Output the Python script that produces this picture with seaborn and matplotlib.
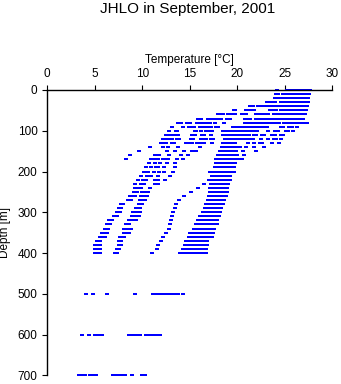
import matplotlib
matplotlib.use("Agg")
import matplotlib.pyplot as plt
import pandas as pd
import seaborn as sns

# ---------------- data: temperatures (deg C) observed at each depth level (m) ----------------
depth_levels = [0, 10, 20, 30, 40, 50, 60, 70, 80, 90, 100, 110, 120, 130, 140, 150, 160, 170,
                180, 190, 200, 210, 220, 230, 240, 250, 260, 270, 280, 290, 300, 310, 320, 330,
                340, 350, 360, 370, 380, 390, 400, 500, 600, 700]

t000 = [24.2, 25.2, 25.5, 26.0, 26.25, 26.5, 26.75, 27.0, 27.25, 27.5, 27.65]
t010 = [24.1, 24.3, 24.8, 25.05, 25.3, 25.55, 25.7, 26.0, 26.25, 26.5, 26.75, 27.0, 27.25, 27.5]
t020 = [24.0, 24.3, 24.5, 24.8, 25.05, 25.3, 25.55, 26.0, 26.25, 26.5, 26.75, 27.0, 27.25, 27.45]
t030 = [23.1, 23.35, 23.6, 23.85, 24.0, 24.6, 24.8, 25.0, 25.25, 25.5, 25.7, 26.0, 26.25, 26.5,
        26.75, 27.0, 27.25, 27.4]
t040 = [21.3, 21.6, 22.2, 22.5, 22.75, 23.0, 23.25, 23.5, 24.0, 24.3, 24.55, 24.8, 25.0, 25.4,
        25.7, 26.0, 26.25, 26.5, 26.75, 27.0, 27.3]
t050 = [19.6, 19.8, 20.9, 21.15, 21.3, 21.6, 21.8, 23.45, 23.7, 23.95, 24.1, 24.6, 24.85, 25.2,
        25.45, 25.7, 25.95, 26.2, 26.4, 26.8, 27.05, 27.2]
t060 = [18.0, 18.25, 18.5, 19.0, 19.2, 19.6, 19.75, 20.5, 20.9, 22.0, 22.4, 22.75, 23.0, 23.25,
        23.9, 24.15, 24.4, 24.6, 24.85, 25.1, 25.35, 25.6, 26.0, 26.25, 26.5, 26.75, 27.0, 27.1]
t070 = [15.9, 16.2, 16.9, 17.3, 17.55, 17.8, 18.0, 18.25, 18.9, 19.2, 20.8, 21.05, 21.3, 22.0,
        22.25, 22.5, 22.75, 23.0, 23.25, 23.5, 23.75, 24.0, 24.25, 24.5, 24.7, 25.0, 25.25, 25.5,
        25.7, 25.9, 26.15, 26.4, 26.65, 26.9]
t080 = [13.8, 14.1, 14.75, 15.0, 15.75, 16.05, 16.45, 16.75, 17.1, 17.7, 18.55, 20.8, 21.05,
        21.3, 21.55, 21.8, 22.05, 22.3, 22.55, 22.8, 23.05, 23.4, 23.65, 23.9, 24.15, 24.4, 24.9,
        25.15, 25.4, 25.7, 25.95, 26.2, 26.5, 26.75, 27.0, 27.3]
t090 = [13.1, 14.3, 14.9, 15.15, 15.4, 16.1, 16.35, 16.6, 17.0, 17.2, 17.75, 18.0, 19.5, 19.75,
        20.0, 20.25, 20.5, 20.75, 21.0, 21.25, 21.5, 21.75, 22.0, 22.25, 22.5, 22.95, 23.1, 24.6,
        24.8, 25.4, 25.8, 26.25]
t100 = [12.8, 13.5, 13.7, 15.5, 15.7, 16.2, 16.7, 17.05, 17.35, 18.5, 18.75, 19.0, 19.25, 19.6,
        19.85, 20.1, 20.3, 20.55, 20.8, 21.05, 21.2, 21.6, 22.1, 23.2, 24.0, 24.25, 25.1, 25.35,
        25.9]
t110 = [12.5, 12.8, 13.1, 13.5, 13.8, 15.2, 15.5, 16.3, 16.5, 17.2, 18.5, 18.75, 19.0, 19.25,
        19.5, 19.75, 20.0, 20.25, 20.5, 20.75, 21.0, 21.2, 21.8, 22.0, 22.6, 22.85, 23.7, 24.0,
        24.6, 24.8]
t120 = [12.2, 12.5, 12.8, 13.1, 13.6, 13.9, 15.1, 15.3, 16.2, 16.45, 16.75, 17.2, 17.45, 18.7,
        18.95, 19.2, 19.45, 19.7, 19.95, 20.3, 20.55, 20.8, 21.2, 21.6, 22.5, 23.2, 23.9, 24.1,
        24.6]
t130 = [12.0, 12.25, 12.5, 13.1, 13.35, 14.6, 14.9, 15.2, 15.8, 16.05, 16.5, 17.3, 18.5, 18.75,
        19.0, 19.25, 19.5, 19.75, 21.1, 21.8, 22.4, 22.65, 23.6, 24.4]
t140 = [10.8, 12.2, 12.7, 13.8, 16.1, 18.4, 18.65, 18.9, 19.15, 19.4, 19.65, 19.9, 20.15, 20.3,
        20.9, 21.8, 22.8]
t150 = [9.6, 12.6, 13.4, 14.4, 15.2, 15.7, 18.2, 18.45, 18.7, 18.95, 19.2, 19.45, 19.7, 19.9,
        20.55, 21.95]
t160 = [8.7, 11.3, 11.6, 11.8, 12.8, 14.1, 14.8, 18.0, 18.25, 18.5, 18.75, 19.0, 19.25, 19.5,
        19.75, 19.95, 20.7]
t170 = [8.3, 10.9, 11.2, 11.45, 11.7, 12.2, 12.45, 12.7, 13.7, 14.3, 17.8, 18.05, 18.3, 18.55,
        18.8, 19.05, 19.3, 19.55, 19.8, 20.05, 20.3, 20.5]
t180 = [10.7, 11.3, 11.9, 12.6, 13.4, 17.8, 18.05, 18.3, 18.55, 18.8, 19.05, 19.3, 19.55, 19.8]
t190 = [10.4, 10.9, 11.4, 11.7, 12.3, 13.4, 17.65, 17.9, 18.15, 18.4, 18.65, 18.9, 19.15, 19.4,
        19.6]
t200 = [10.2, 10.65, 11.25, 11.8, 12.3, 13.25, 17.15, 17.4, 17.65, 17.9, 18.15, 18.4, 18.65,
        18.9, 19.15, 19.4, 19.6]
t210 = [9.9, 10.5, 10.9, 11.6, 12.9, 17.3, 17.55, 17.8, 18.05, 18.3, 18.55, 18.8, 19.05, 19.2]
t220 = [9.5, 10.1, 10.4, 11.35, 11.6, 12.4, 17.0, 17.25, 17.5, 17.75, 18.0, 18.25, 18.5, 18.75,
        19.0, 19.2]
t230 = [9.2, 9.9, 10.2, 11.35, 11.6, 16.5, 17.2, 17.45, 17.7, 17.95, 18.2, 18.45, 18.7, 18.9,
        19.05]
t240 = [9.2, 9.45, 9.7, 9.9, 10.8, 15.9, 17.1, 17.35, 17.6, 17.85, 18.1, 18.35, 18.55, 18.8,
        18.95]
t250 = [9.1, 9.4, 9.95, 10.25, 10.6, 15.15, 17.1, 17.35, 17.6, 17.85, 18.1, 18.35, 18.55, 18.75,
        18.9]
t260 = [8.7, 8.95, 9.2, 9.9, 10.2, 10.45, 14.4, 17.0, 17.25, 17.5, 17.75, 18.0, 18.25, 18.45,
        18.7, 18.85]
t270 = [8.5, 8.8, 9.8, 10.05, 10.3, 13.85, 16.9, 17.15, 17.4, 17.65, 17.9, 18.1, 18.35, 18.6]
t280 = [7.8, 8.0, 9.65, 9.95, 13.5, 16.7, 16.95, 17.2, 17.45, 17.7, 17.95, 18.2, 18.45]
t290 = [7.5, 7.75, 9.3, 9.55, 9.8, 13.4, 16.6, 16.85, 17.1, 17.35, 17.6, 17.8, 18.05, 18.3]
t300 = [7.3, 7.6, 9.05, 9.3, 9.55, 9.8, 13.25, 16.4, 16.65, 16.9, 17.15, 17.4, 17.65, 17.85,
        18.05, 18.2]
t310 = [7.0, 7.3, 8.9, 9.1, 9.45, 9.6, 13.1, 16.1, 16.35, 16.6, 16.85, 17.1, 17.35, 17.6, 17.8,
        17.95, 18.1]
t320 = [6.5, 6.8, 8.6, 8.8, 9.05, 9.3, 13.0, 15.9, 16.15, 16.4, 16.65, 16.9, 17.15, 17.4, 17.6,
        17.75, 17.9]
t330 = [6.3, 6.6, 8.3, 8.55, 12.9, 15.7, 15.95, 16.2, 16.45, 16.7, 16.95, 17.2, 17.45, 17.7,
        17.85]
t340 = [6.1, 6.4, 8.1, 8.35, 8.85, 12.8, 15.4, 15.65, 15.9, 16.15, 16.4, 16.65, 16.9, 17.1,
        17.35, 17.55]
t350 = [5.8, 6.05, 6.3, 8.1, 8.35, 8.6, 12.45, 15.0, 15.25, 15.5, 15.75, 16.0, 16.25, 16.5,
        16.75, 17.0, 17.25, 17.4]
t360 = [5.5, 5.7, 5.85, 6.1, 7.65, 7.9, 8.1, 12.15, 14.9, 15.15, 15.4, 15.65, 15.9, 16.15,
        16.4, 16.65, 16.9, 17.05, 17.3]
t370 = [5.2, 5.5, 7.5, 7.8, 11.95, 14.6, 14.85, 15.1, 15.35, 15.6, 15.85, 16.05, 16.35, 16.65,
        16.85]
t380 = [5.0, 5.25, 5.5, 7.5, 7.8, 11.6, 14.5, 14.75, 15.0, 15.25, 15.5, 15.75, 16.0, 16.25,
        16.55, 16.8]
t390 = [5.0, 5.25, 5.5, 7.3, 7.55, 11.5, 14.25, 14.5, 14.75, 15.0, 15.25, 15.5, 15.9, 16.2,
        16.5, 16.75]
t400 = [5.0, 5.25, 5.5, 7.1, 7.35, 11.05, 13.95, 14.2, 14.45, 14.7, 14.95, 15.2, 15.45, 15.7,
        15.95, 16.1, 16.45, 16.7]
t500 = [4.1, 4.8, 6.25, 9.2, 11.1, 11.35, 11.6, 11.85, 12.1, 12.3, 12.75, 13.0, 13.25, 13.5,
        13.8, 14.3]
t600 = [3.7, 4.4, 5.05, 5.35, 5.75, 8.55, 8.8, 9.05, 9.3, 9.55, 9.8, 10.4, 10.65, 10.9, 11.15,
        11.4, 11.65, 11.9]
t700 = [3.3, 3.5, 3.75, 4.0, 4.45, 4.7, 4.95, 5.15, 6.95, 7.2, 7.45, 7.7, 7.95, 8.2, 8.95,
        9.95, 10.3]

temps_per_level = [t000, t010, t020, t030, t040, t050, t060, t070, t080, t090, t100, t110, t120,
                   t130, t140, t150, t160, t170, t180, t190, t200, t210, t220, t230, t240, t250,
                   t260, t270, t280, t290, t300, t310, t320, t330, t340, t350, t360, t370, t380,
                   t390, t400, t500, t600, t700]

x_ticks = [0, 5, 10, 15, 20, 25, 30]
y_ticks = [0, 100, 200, 300, 400, 500, 600, 700]

records = [(d, t) for d, lvl in zip(depth_levels, temps_per_level) for t in lvl]
df = pd.DataFrame(records, columns=["depth", "temperature"])

# ---------------- figure ----------------
sns.set_theme(style="white")
plt.rcParams["font.family"] = ["Liberation Sans", "DejaVu Sans"]

W, H = 341, 384
fig = plt.figure(figsize=(W / 100, H / 100), dpi=100)
ax = fig.add_axes([47.3 / W, 1 - 375.3 / H, 285 / W, 285.3 / H])

# small flat rectangular marker (wider than tall), like the bitmap dots of the original
rect_marker = [(-1.0, -0.62), (1.0, -0.62), (1.0, 0.62), (-1.0, 0.62), (-1.0, -0.62)]
sns.scatterplot(data=df, x="temperature", y="depth", marker=rect_marker, s=5.0,
                color="#0000ff", linewidth=0, ax=ax, legend=False)
for coll in ax.collections:
    coll.set_clip_on(False)
    coll.set_antialiased(False)

ax.set_xlim(0, 30)
ax.set_ylim(700, 0)
ax.set_xticks(x_ticks)
ax.set_yticks(y_ticks)

for side in ["right", "bottom"]:
    ax.spines[side].set_visible(False)
for side in ["top", "left"]:
    ax.spines[side].set_visible(True)
    ax.spines[side].set_color("black")
    ax.spines[side].set_linewidth(1.0)

ax.xaxis.set_label_position("top")
ax.tick_params(axis="x", top=True, bottom=False, labeltop=True, labelbottom=False,
               direction="out", length=3.6, width=0.8, color="black",
               labelsize=8.5, labelcolor="black", pad=3.5)
ax.tick_params(axis="y", left=True, right=False, direction="out", length=3.6, width=0.8,
               color="black", labelsize=8.5, labelcolor="black", pad=3.5)

ax.set_xlabel("Temperature [°C]", fontsize=8.5, color="black", labelpad=4)
ax.set_ylabel("Depth [m]", fontsize=8.5, color="black")
ax.yaxis.set_label_coords(-0.128, 0.5)
ax.grid(False)

fig.text(188 / W, 1 - 8.5 / H, "JHLO in September, 2001", ha="center", va="center",
         fontsize=11, color="black")

fig.savefig("out.png", dpi=100)
